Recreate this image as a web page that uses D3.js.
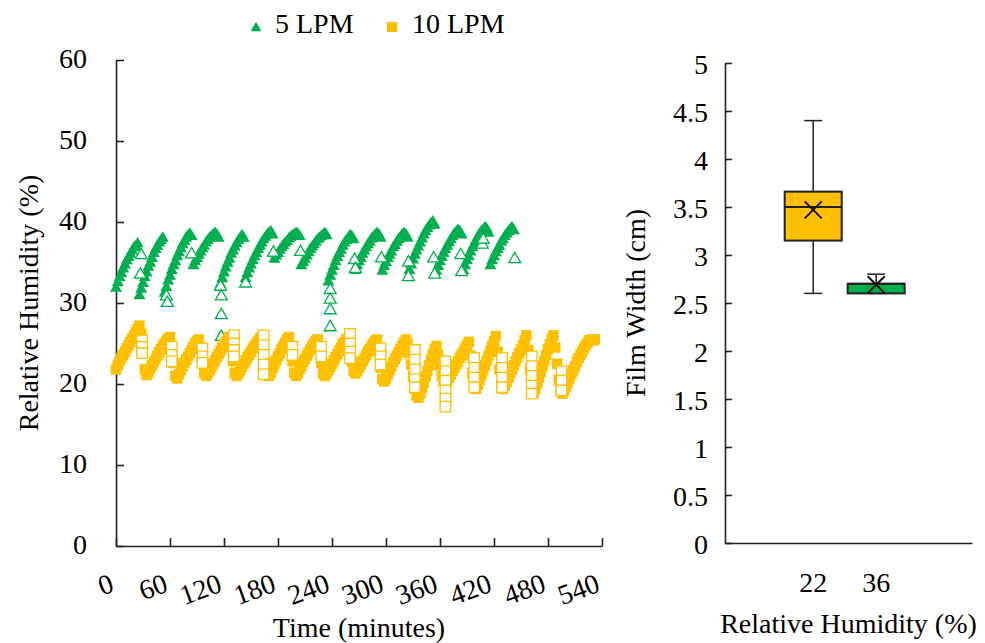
<!DOCTYPE html>
<html>
<head>
<meta charset="utf-8">
<script src="https://cdn.jsdelivr.net/npm/d3@7"></script>
<style>
	body { margin: 0; background: #fff; }
	svg { display: block; }
</style>
</head>
<body>
<svg id="chart"></svg>
<script>
// ---------- data ----------
// relative humidity (%), one reading every 2 minutes from t = 0
const timeStep = 2;
const lpm5Values = [
	31.8, 32.5, 33.1, 33.6, 34.2, 34.7, 35.2, 35.6, 36.0, 36.4, 36.8, 37.0, 37.3,
	30.9, 31.7, 32.4, 33.1, 33.7, 34.4, 34.9, 35.5, 36.1, 36.6, 37.0, 37.4, 37.7, 38.0,
	31.2, 31.9, 32.7, 33.3, 34.0, 34.6, 35.1, 35.7, 36.2, 36.7, 37.2, 37.6, 38.0, 38.3, 38.5, 38.2,
	34.6, 35.1, 35.5, 35.9, 36.3, 36.7, 37.0, 37.4, 37.7, 38.0, 38.2, 38.4, 38.6, 38.4, 38.0,
	32.3, 33.0, 33.7, 34.3, 34.9, 35.4, 36.0, 36.4, 36.9, 37.3, 37.7, 38.0, 38.3, 38.0,
	33.0, 33.6, 34.2, 34.7, 35.2, 35.7, 36.1, 36.6, 37.0, 37.4, 37.8, 38.1, 38.4, 38.6, 38.8, 38.4,
	35.4, 35.8, 36.1, 36.5, 36.8, 37.1, 37.4, 37.6, 37.9, 38.1, 38.3, 38.4, 38.6, 38.5, 38.2,
	34.6, 35.0, 35.4, 35.8, 36.2, 36.6, 36.9, 37.2, 37.5, 37.8, 38.0, 38.2, 38.4, 38.6, 38.3,
	32.6, 33.3, 33.9, 34.5, 35.1, 35.6, 36.1, 36.5, 37.0, 37.4, 37.7, 38.0, 38.3, 38.2, 37.8,
	34.0, 34.6, 35.1, 35.5, 36.0, 36.4, 36.8, 37.2, 37.5, 37.9, 38.1, 38.4, 38.6, 38.4, 38.0,
	33.9, 34.5, 35.0, 35.5, 35.9, 36.3, 36.8, 37.1, 37.5, 37.8, 38.1, 38.4, 38.6, 38.4, 38.0,
	34.0, 34.7, 35.3, 35.9, 36.4, 36.9, 37.4, 37.9, 38.4, 38.8, 39.2, 39.5, 39.8, 40.0, 39.6,
	33.9, 34.5, 35.1, 35.6, 36.1, 36.6, 37.0, 37.4, 37.8, 38.2, 38.5, 38.7, 39.0, 38.8, 38.4,
	34.0, 34.6, 35.2, 35.7, 36.3, 36.8, 37.2, 37.7, 38.1, 38.5, 38.8, 39.0, 39.3, 39.1, 38.6,
	34.6, 35.2, 35.7, 36.2, 36.6, 37.0, 37.5, 37.8, 38.2, 38.5, 38.8, 39.1, 39.3, 38.9
];
const lpm10Values = [
	21.8, 22.3, 22.8, 23.2, 23.6, 24.0, 24.4, 24.8, 25.2, 25.6, 26.0, 26.4, 26.8, 27.2,
	26.2, 24.0, 21.8, 21.1,
	21.4, 21.9, 22.3, 22.7, 23.1, 23.5, 23.9, 24.3, 24.7, 25.0, 25.3, 25.6, 25.8,
	24.5, 22.6, 21.0, 20.7,
	21.2, 21.7, 22.2, 22.6, 23.0, 23.4, 23.8, 24.2, 24.6, 25.0, 25.3, 25.5,
	24.3, 22.6, 21.3, 21.0,
	21.3, 21.7, 22.1, 22.5, 22.9, 23.3, 23.7, 24.1, 24.5, 24.9, 25.2, 25.5, 25.8,
	24.6, 22.8, 21.4, 21.0,
	21.3, 21.7, 22.1, 22.5, 22.9, 23.3, 23.6, 24.0, 24.4, 24.7, 25.0, 25.3, 25.6, 25.8,
	24.5, 22.7, 21.3, 21.0,
	21.4, 21.9, 22.4, 22.9, 23.4, 23.8, 24.3, 24.7, 25.1, 25.5, 25.8,
	24.6, 22.8, 21.4, 21.0,
	21.3, 21.8, 22.2, 22.7, 23.1, 23.5, 23.9, 24.3, 24.7, 25.0, 25.3, 25.5,
	24.3, 22.6, 21.3, 21.0,
	21.3, 21.7, 22.1, 22.5, 22.9, 23.3, 23.7, 24.1, 24.5, 24.9, 25.2, 25.5, 25.6,
	24.4, 22.8, 21.6, 21.3,
	21.6, 22.0, 22.4, 22.8, 23.2, 23.6, 24.0, 24.3, 24.7, 25.0, 25.3, 25.5,
	24.0, 22.0, 20.6, 20.3,
	20.7, 21.2, 21.7, 22.2, 22.7, 23.1, 23.5, 23.9, 24.3, 24.7, 25.1, 25.5,
	25.0, 23.8, 22.4, 21.0, 19.6, 18.6, 18.3,
	18.8, 19.5, 20.2, 20.9, 21.6, 22.3, 23.0, 23.7, 24.3, 24.7,
	23.6, 22.3, 21.0, 20.3, 20.1,
	20.4, 20.8, 21.2, 21.6, 22.0, 22.4, 22.8, 23.2, 23.6, 24.0, 24.4, 24.8, 25.2,
	23.5, 21.3, 19.6, 19.4,
	19.9, 20.5, 21.1, 21.7, 22.3, 22.9, 23.5, 24.1, 24.7, 25.3, 25.9,
	24.0, 21.8, 19.8, 19.4,
	19.8, 20.3, 20.8, 21.3, 21.8, 22.3, 22.8, 23.3, 23.8, 24.3, 24.8, 25.4, 26.0,
	24.2, 21.8, 19.5, 18.9,
	19.4, 20.1, 20.8, 21.5, 22.2, 22.9, 23.6, 24.3, 24.9, 25.5, 26.0,
	24.5, 22.5, 20.5, 19.2, 18.8,
	19.2, 19.7, 20.2, 20.7, 21.2, 21.7, 22.2, 22.7, 23.2, 23.6, 24.0, 24.4, 24.8, 25.1, 25.4, 25.5, 25.4, 25.5
];

// transition readings (open markers)
const lpm5OpenTimes = [27, 28, 56, 57, 84, 116, 117, 117, 117, 144, 175, 205, 238, 238, 238, 238,
	265, 266, 295, 325, 325, 353, 354, 383, 384, 407, 408, 443];
const lpm5OpenValues = [33.5, 35.9, 30.8, 30.0, 36.0, 32.0, 30.8, 28.5, 25.8, 32.4, 36.2, 36.3, 31.6, 30.4, 29.1, 27.0,
	35.3, 34.2, 35.5, 33.2, 35.0, 35.5, 33.5, 35.9, 33.8, 37.2, 37.8, 35.4];
const lpm10OpenTimes = [29, 29, 29, 62, 62, 62, 96, 96, 96, 131, 131, 131, 131, 164, 164, 164, 164, 164,
	196, 196, 228, 228, 260, 260, 260, 260, 294, 294, 294, 332, 332, 332, 332, 332,
	366, 366, 366, 366, 366, 366, 398, 398, 398, 398, 429, 429, 429, 429,
	462, 462, 462, 462, 462, 495, 495, 495];
const lpm10OpenValues = [25.4, 24.6, 23.8, 24.6, 23.6, 22.8, 24.4, 23.4, 22.6, 26.0, 25.0, 24.2, 23.4, 26.0, 24.8, 23.6, 22.4, 21.2,
	24.6, 23.6, 24.6, 23.4, 26.2, 25.0, 24.0, 23.2, 24.4, 23.4, 22.4, 24.2, 23.0, 21.8, 20.6, 19.6,
	22.8, 21.6, 20.4, 19.2, 18.2, 17.2, 23.2, 22.0, 20.8, 19.6, 23.2, 22.0, 20.8, 19.6,
	23.4, 22.2, 21.0, 19.8, 18.8, 21.6, 20.4, 19.2];

const timeTicks = [0, 60, 120, 180, 240, 300, 360, 420, 480, 540];
const rhTicks = [0, 10, 20, 30, 40, 50, 60];

// film width box plot
const boxCats = ["22", "36"];
const boxMin = [2.6, 2.6];
const boxQ1 = [3.15, 2.6];
const boxMedian = [3.5, 2.7];
const boxQ3 = [3.66, 2.7];
const boxMax = [4.4, 2.8];
const boxMean = [3.47, 2.69];
const widthTicks = [0, 0.5, 1, 1.5, 2, 2.5, 3, 3.5, 4, 4.5, 5];

// ---------- setup ----------
const size = { w: 985, h: 643 };
const green = "#00B050";
const yellow = "#FFC000";
const ink = "#222";
const fontSize = 28;
const serif = '"Liberation Serif", monospace';

const svg = d3.select("svg#chart")
	.attr("width", size.w).attr("height", size.h);

function styleAxis(g) {
	g.attr("font-size", fontSize).attr("font-family", serif);
	g.select(".domain").attr("stroke", ink).attr("stroke-width", 1.6);
	g.selectAll(".tick line").attr("stroke", ink).attr("stroke-width", 1.6);
	g.selectAll(".tick text").attr("fill", "#000").attr("font-family", serif).attr("font-size", fontSize);
}

function label(sel) {
	return sel.append("text").attr("font-family", serif).attr("font-size", fontSize);
}

// ---------- left panel: RH over time ----------
const left = { l: 116, t: 60, w: 486, h: 486 };
const xL = d3.scaleLinear().domain([0, 540]).range([0, left.w]);
const yL = d3.scaleLinear().domain([0, 60]).range([left.h, 0]);
const gL = svg.append("g").attr("transform", `translate(${left.l},${left.t})`);

gL.append("g")
	.call(d3.axisLeft(yL).tickValues(rhTicks).tickSize(-8).tickSizeOuter(0).tickPadding(29))
	.call(styleAxis)
	.call((g) => g.selectAll(".tick text").attr("dy", "0.25em"));

gL.append("g")
	.attr("transform", `translate(0,${left.h})`)
	.call(d3.axisBottom(xL).tickValues(timeTicks).tickSize(-8).tickSizeOuter(0))
	.call(styleAxis)
	.call((g) =>
		g.selectAll(".tick text")
			.attr("x", 0).attr("y", 0).attr("dy", 0)
			.attr("text-anchor", "end")
			.attr("transform", "translate(-1,45) rotate(-20)")
	);

const toPoints = (vals, times) =>
	vals.map((v, i) => ({ t: times ? times[i] : i * timeStep, v: v }));

const tri = d3.symbol(d3.symbolTriangle, 62);
const sq = d3.symbol(d3.symbolSquare, 110);

function drawSeries(points, path, fill, stroke) {
	gL.append("g")
		.selectAll("path")
		.data(points)
		.join("path")
		.attr("d", path)
		.attr("transform", (d) => `translate(${xL(d.t)},${yL(d.v)})`)
		.attr("fill", fill)
		.attr("stroke", stroke)
		.attr("stroke-width", stroke === "none" ? 0 : 1.3);
}

drawSeries(toPoints(lpm5Values), tri, green, "none");
drawSeries(toPoints(lpm5OpenValues, lpm5OpenTimes), tri, "#fff", green);
drawSeries(toPoints(lpm10Values), sq, yellow, "none");
drawSeries(toPoints(lpm10OpenValues, lpm10OpenTimes), sq, "#fff", yellow);

label(svg)
	.attr("x", left.l + left.w / 2).attr("y", 637)
	.attr("text-anchor", "middle")
	.text("Time (minutes)");
label(svg)
	.attr("transform", `translate(38,${left.t + left.h / 2}) rotate(-90)`)
	.attr("text-anchor", "middle")
	.text("Relative Humidity (%)");

// legend
const legend = svg.append("g");
legend.append("path").attr("d", d3.symbol(d3.symbolTriangle, 52)).attr("fill", green).attr("transform", "translate(256,28)");
label(legend).attr("x", 275).attr("y", 33).text("5 LPM");
legend.append("path").attr("d", d3.symbol(d3.symbolSquare, 100)).attr("fill", yellow).attr("transform", "translate(392,27)");
label(legend).attr("x", 412).attr("y", 33).text("10 LPM");

// ---------- right panel: film width box plot ----------
const right = { l: 725, t: 63, w: 247, h: 480 };
const xR = d3.scaleBand().domain(boxCats).range([0, right.w])
	.paddingInner(0.095).paddingOuter(1.008).align(0.47);
const yR = d3.scaleLinear().domain([0, 5]).range([right.h, 0]);
const gR = svg.append("g").attr("transform", `translate(${right.l},${right.t})`);

gR.append("g")
	.call(d3.axisLeft(yR).tickValues(widthTicks).tickFormat((d) => String(d))
		.tickSize(-7).tickSizeOuter(0).tickPadding(17))
	.call(styleAxis)
	.call((g) => g.selectAll(".tick text").attr("dy", "0.36em"));

gR.append("g")
	.attr("transform", `translate(0,${right.h})`)
	.call(d3.axisBottom(xR).tickSize(0).tickSizeOuter(0).tickPadding(29))
	.call(styleAxis);

const boxFill = [yellow, green];
const bw = xR.bandwidth();
const boxes = gR.selectAll("g.box")
	.data(boxCats)
	.join("g")
	.classed("box", true)
	.attr("transform", (d) => `translate(${xR(d) + bw / 2},0)`);

// whiskers
boxes.append("line")
	.attr("y1", (d, i) => yR(boxMax[i])).attr("y2", (d, i) => yR(boxQ3[i]))
	.attr("stroke", ink).attr("stroke-width", 1.5);
boxes.append("line")
	.attr("y1", (d, i) => yR(boxQ1[i])).attr("y2", (d, i) => yR(boxMin[i]))
	.attr("stroke", ink).attr("stroke-width", 1.5);
boxes.append("line")
	.attr("x1", -9).attr("x2", 9)
	.attr("y1", (d, i) => yR(boxMax[i])).attr("y2", (d, i) => yR(boxMax[i]))
	.attr("stroke", ink).attr("stroke-width", 1.5);
boxes.append("line")
	.attr("x1", -9).attr("x2", 9)
	.attr("y1", (d, i) => yR(boxMin[i])).attr("y2", (d, i) => yR(boxMin[i]))
	.attr("stroke", ink).attr("stroke-width", 1.5);

boxes.append("rect")
	.attr("x", -bw / 2).attr("width", bw)
	.attr("y", (d, i) => yR(boxQ3[i]))
	.attr("height", (d, i) => yR(boxQ1[i]) - yR(boxQ3[i]))
	.attr("fill", (d, i) => boxFill[i])
	.attr("stroke", ink).attr("stroke-width", 2);

boxes.append("line")
	.attr("x1", -bw / 2).attr("x2", bw / 2)
	.attr("y1", (d, i) => yR(boxMedian[i])).attr("y2", (d, i) => yR(boxMedian[i]))
	.attr("stroke", ink).attr("stroke-width", 2);

boxes.append("path")
	.attr("d", d3.symbol(d3.symbolX, 190))
	.attr("transform", (d, i) => `translate(0,${yR(boxMean[i])})`)
	.attr("fill", "none").attr("stroke", "#111").attr("stroke-width", 2);

label(svg)
	.attr("x", right.l + right.w / 2).attr("y", 633)
	.attr("text-anchor", "middle")
	.text("Relative Humidity (%)");
label(svg)
	.attr("transform", `translate(645,${right.t + right.h / 2}) rotate(-90)`)
	.attr("text-anchor", "middle")
	.text("Film Width (cm)");
</script>
</body>
</html>
